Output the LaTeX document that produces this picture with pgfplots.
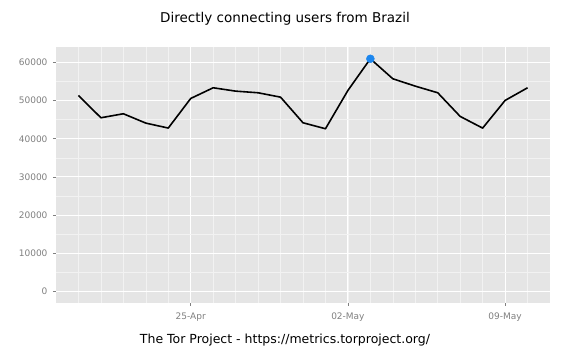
\documentclass[border=0pt]{standalone}
\usepackage{pgfplots}
\pgfplotsset{compat=1.18}
\usepackage{fontspec}
\setmainfont{DejaVu Sans}
\definecolor{panel}{HTML}{E5E5E5}
\definecolor{minorg}{HTML}{F2F2F2}
\definecolor{dot}{HTML}{1C86EE}
\definecolor{tickg}{HTML}{7F7F7F}
\begin{document}
\begin{tikzpicture}[x=1pt,y=1pt]
\path[use as bounding box] (0,0) rectangle (579,353);
\begin{axis}[at={(56pt,50pt)}, anchor=south west, scale only axis,
  width=494pt, height=256pt,
  xmin=-6, xmax=16, ymin=-3050, ymax=64050,
  axis background/.style={fill=panel},
  axis line style={draw=none},
  xtick pos=bottom, ytick pos=left,
  xtick={0,7,14}, xticklabels={25-Apr,02-May,09-May},
  minor xtick={-5,...,15},
  ytick={0,10000,...,60000},
  minor ytick={5000,15000,...,55000},
  grid=both,
  major grid style={white, line width=1pt},
  minor grid style={minorg, line width=0.6pt},
  tick align=outside, major tick length=3pt, minor tick length=0pt,
  tick style={tickg, line width=0.6pt},
  ticklabel style={font=\fontsize{9}{10}\selectfont, text=tickg},
  xticklabel style={yshift=-3pt},
  /pgf/number format/assume math mode=true,
  scaled y ticks=false,
  yticklabel style={xshift=-2pt, /pgf/number format/fixed, /pgf/number format/1000 sep={}},
  clip=false,
]
\addplot[black, line width=1.6pt, line join=round] coordinates {
(-5,51350) (-4,45500) (-3,46550) (-2,44100) (-1,42800)
(0,50560) (1,53360) (2,52480) (3,52050) (4,50900)
(5,44190) (6,42620) (7,52660) (8,60960) (9,55720)
(10,53790) (11,52050) (12,45850) (13,42790) (14,50040) (15,53360)
};
\addplot[only marks, mark=*, mark size=4pt, mark options={draw=dot, fill=dot}] coordinates {(8,60960)};
\end{axis}
\node at (285,334) {\fontsize{13.5}{15}\selectfont Directly connecting users from Brazil};
\node at (285,13) {\fontsize{12.5}{14}\selectfont The Tor Project - https://metrics.torproject.org/};
\end{tikzpicture}
\end{document}
